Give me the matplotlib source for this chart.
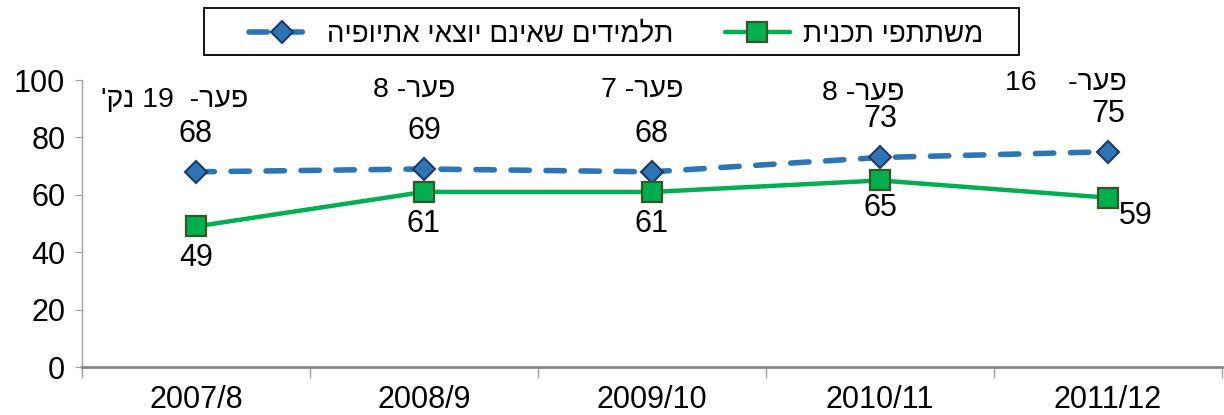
import re
import numpy as np
import matplotlib
matplotlib.use('Agg')
import matplotlib.pyplot as plt
from matplotlib.patches import Rectangle

# data
years = ['2007/8', '2008/9', '2009/10', '2010/11', '2011/12']
others = [68, 69, 68, 73, 75]        # students not of Ethiopian origin
participants = [49, 61, 61, 65, 59]  # program participants
label_others = 'תלמידים שאינם יוצאי אתיופיה'
label_part = 'משתתפי תכנית'


def vis(s):
    # matplotlib draws left to right, so put Hebrew into visual order
    r = s[::-1]
    return re.sub(r'\d+', lambda m: m.group(0)[::-1], r)


plt.rcParams['font.family'] = ['Liberation Sans', 'DejaVu Sans']
plt.rcParams['font.size'] = 22

fig = plt.figure(figsize=(12.24, 4.15), dpi=100)
ax = fig.add_axes([82 / 1224, 48 / 415, 1140 / 1224, 287 / 415])

x = np.arange(len(years))
blue = '#2E75B6'
green = '#00B050'

l1, = ax.plot(x, others, color=blue, lw=4, dashes=(3.3, 3), dash_capstyle='round',
              marker='D', ms=11, mfc=blue, mec='#1F3864', mew=1.5, zorder=3)
l2, = ax.plot(x, participants, color=green, lw=3.2, solid_capstyle='round',
              marker='s', ms=14, mfc=green, mec='#375623', mew=1.6, zorder=3)

# value labels
for i, v in enumerate(others):
    ax.annotate(str(v), (x[i], v), xytext=(0, 38), textcoords='offset pixels',
                ha='center', va='center')
green_off = [(0, -32), (0, -32), (0, -32), (0, -28), (28, -18)]
for i, v in enumerate(participants):
    ax.annotate(str(v), (x[i], v), xytext=green_off[i], textcoords='offset pixels',
                ha='center', va='center')

# gap labels
gap_off = [(-21, 72), (-10, 79), (-10, 82), (-17, 64), (-42, 69)]
for i in range(len(years)):
    gap = others[i] - participants[i]
    if i == 0:
        txt = "פער-  %d נק'" % gap
    elif i == len(years) - 1:
        txt = "פער-    %d" % gap
    else:
        txt = "פער- %d" % gap
    ax.annotate(vis(txt), (x[i], others[i]), xytext=gap_off[i], textcoords='offset pixels',
                ha='center', va='center', fontsize=20.5)

ax.set_ylim(0, 100)
ax.set_yticks(range(0, 101, 20))
ax.set_xlim(-0.5, len(years) - 0.5)
ax.set_xticks(np.arange(-0.5, len(years), 1))
ax.set_xticklabels([])
ax.set_xticks(x, minor=True)
ax.set_xticklabels(years, minor=True)

ax.spines['top'].set_visible(False)
ax.spines['right'].set_visible(False)
ax.spines['left'].set_color('#A0A0A0')
ax.spines['left'].set_linewidth(1)
ax.spines['bottom'].set_color('#868686')
ax.spines['bottom'].set_linewidth(2)
ax.tick_params(axis='y', length=5, color='#A0A0A0', pad=7)
ax.tick_params(axis='x', which='major', length=8, color='#A0A0A0', width=1)
ax.tick_params(axis='x', which='minor', length=0, pad=13)

fig.legend([l1, l2], [vis(label_others), vis(label_part)], loc='center',
           bbox_to_anchor=(616 / 1224, 1 - 35 / 415), ncol=2, frameon=False,
           handlelength=2.34, handletextpad=0.47, columnspacing=1.84, fontsize=20)
fig.patches.append(Rectangle((204 / 1224, 1 - 55 / 415), 815 / 1224, 47 / 415,
                             transform=fig.transFigure, fill=False, ec='black', lw=1.3))

fig.savefig('out.png', dpi=100)
